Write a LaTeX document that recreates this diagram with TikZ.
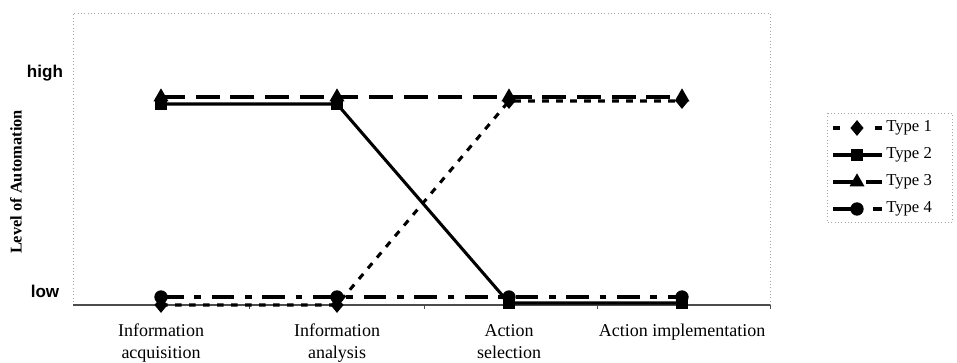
\documentclass[tikz,border=0pt]{standalone}
\usepackage{fontspec}
\setmainfont{Liberation Serif}
\newfontfamily\arialfont{Liberation Sans}
\usetikzlibrary{shapes.geometric}
\tikzset{
  frameline/.style={draw=gray!70, line width=0.5pt, dotted},
  axisline/.style={draw=gray!60!black, line width=0.9pt},
  tickline/.style={draw=gray!60!black, line width=0.6pt},
  serline/.style={line width=2.3pt, draw=black},
  tone/.style={serline, dash pattern=on 5pt off 5.5pt},
  ttwo/.style={serline},
  tthree/.style={serline, dash pattern=on 18pt off 8pt},
  tfour/.style={serline, dash pattern=on 17pt off 8pt on 5pt off 8pt},
  mk/.style={fill=black, draw=none, inner sep=0pt},
  dmd/.style={mk, diamond, minimum width=10pt, minimum height=12pt},
  sqr/.style={mk, rectangle, minimum size=9.5pt},
  tri/.style={mk, regular polygon, regular polygon sides=3, minimum size=13pt},
  circ/.style={mk, circle, minimum size=10pt},
  cat/.style={font=\fontsize{13.5}{16.5}\selectfont, align=center, anchor=north, inner sep=0pt},
  lvl/.style={font=\arialfont\bfseries\fontsize{12.8}{14}\selectfont, inner sep=0pt},
  legtext/.style={font=\fontsize{12.5}{14}\selectfont, anchor=west, inner sep=0pt},
}
\begin{document}
\begin{tikzpicture}[x=0.75pt,y=-0.75pt]
\useasboundingbox (0,0) rectangle (957,363);
% plot frame
\coordinate (tl) at (73,13);
\coordinate (tr) at (770,13);
\coordinate (bl) at (73,305);
\coordinate (br) at (770,305);
\draw[frameline] (bl) -- (tl) -- (tr) -- (br);
\draw[axisline] (bl) -- (br);
\foreach \x [count=\i] in {249,424,597,770} {
  \coordinate (tk\i) at (\x,305);
  \coordinate (tke\i) at (\x,309);
  \draw[tickline] (tk\i) -- (tke\i);
}
% axis labels
\node[lvl] (high) at (45,73) {high};
\node[lvl] (low) at (45,291) {low};
\node[rotate=90, font=\bfseries\fontsize{12.3}{14}\selectfont, inner sep=0pt] (ylab) at (16,182) {Level of Automation};
% category labels
\node[cat] (c1) at (161,324) {Information\\acquisition};
\node[cat] (c2) at (337,324) {Information\\analysis};
\node[cat] (c3) at (509,324) {Action\\selection};
\node[cat] (c4) at (682,324) {Action implementation};
% data coordinates
\coordinate (a1) at (161,305); \coordinate (a2) at (337,305); \coordinate (a3) at (509,101); \coordinate (a4) at (682,101);
\coordinate (b1) at (161,104); \coordinate (b2) at (337,104); \coordinate (b3) at (509,303); \coordinate (b4) at (682,303);
\coordinate (d1) at (161,97);  \coordinate (d2) at (337,97);  \coordinate (d3) at (509,97);  \coordinate (d4) at (682,97);
\coordinate (e1) at (161,297); \coordinate (e2) at (337,297); \coordinate (e3) at (509,297); \coordinate (e4) at (682,297);
% lines
\draw[tone] (a1) -- (a2) -- (a3) -- (a4);
\draw[ttwo] (b1) -- (b2) -- (b3) -- (b4);
\draw[tthree] (d1) -- (d2) -- (d3) -- (d4);
\draw[tfour] (e1) -- (e2) -- (e3) -- (e4);
% markers
\foreach \i in {1,2,3,4} {
  \node[dmd] (ma\i) at (a\i) {};
  \node[sqr] (mb\i) at (b\i) {};
  \node[tri] (md\i) at (d\i) {};
  \node[circ] (me\i) at (e\i) {};
}
% legend
\coordinate (lg1) at (827,113);
\coordinate (lg2) at (952,222);
\draw[frameline] (lg1) rectangle (lg2);
\foreach \y/\mk/\t [count=\j] in {128/dmd/Type 1, 155/sqr/Type 2, 182/tri/Type 3, 209/circ/Type 4} {
  \coordinate (ls\j) at (833,\y);
  \coordinate (le\j) at (882,\y);
  \coordinate (lm\j) at (857,\y);
  \node[legtext] (lt\j) at (886,\y) {\t};
}
\draw[serline] (ls1) -- ++(7,0); \draw[serline] (le1) -- ++(-7,0);
\draw[ttwo] (ls2) -- (le2);
\draw[serline] (ls3) -- ++(20,0); \draw[serline] (le3) -- ++(-16,0);
\draw[serline] (ls4) -- ++(22,0); \draw[serline] (le4) -- ++(-9,0);
\node[dmd] (lk1) at (lm1) {};
\node[sqr] (lk2) at (lm2) {};
\node[tri] (lk3) at (lm3) {};
\node[circ] (lk4) at (lm4) {};
\end{tikzpicture}
\end{document}
